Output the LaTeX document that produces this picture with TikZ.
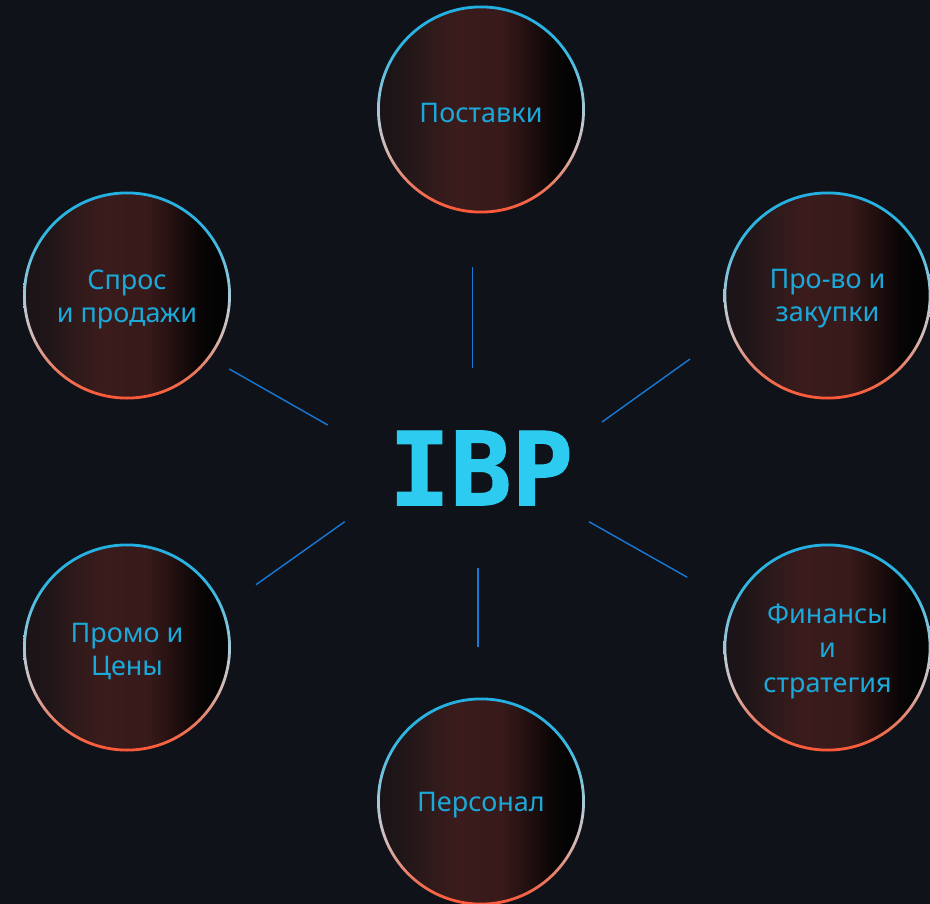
\documentclass[tikz,border=0pt]{standalone}
\usepackage{fontspec}
\setmainfont{Noto Sans}
\newfontfamily\ibpfont[BoldFeatures={FakeBold=1.2}]{DejaVu Sans Mono}
\definecolor{bgc}{HTML}{10121A}
\definecolor{lblc}{HTML}{1BA9DA}
\definecolor{ibpc}{HTML}{2ECBF0}
\definecolor{spokec}{HTML}{1679D6}
\definecolor{bfa}{HTML}{1A1418}
\definecolor{bfb}{HTML}{1E1518}
\definecolor{bfc}{HTML}{301A1B}
\definecolor{bfd}{HTML}{3B1B1C}
\definecolor{bfe}{HTML}{381A1A}
\definecolor{bff}{HTML}{200E0F}
\definecolor{bfg}{HTML}{080505}
\definecolor{bfh}{HTML}{030303}
\definecolor{rga}{HTML}{FF5636}
\definecolor{rgb}{HTML}{E87A60}
\definecolor{rgc}{HTML}{D4B8B4}
\definecolor{rgd}{HTML}{BCC8D0}
\definecolor{rge}{HTML}{80C4DC}
\definecolor{rgf}{HTML}{30B6E0}
\definecolor{rgg}{HTML}{22B0E2}
\pgfdeclarehorizontalshading{bubblefill}{100bp}{color(0bp)=(bfa); color(25bp)=(bfa); color(30bp)=(bfb); color(38bp)=(bfc); color(44bp)=(bfd); color(55bp)=(bfe); color(62bp)=(bff); color(68bp)=(bfg); color(72bp)=(bfh); color(100bp)=(bfh)}
\pgfdeclareverticalshading{bubblering}{100bp}{color(0bp)=(rga); color(25bp)=(rga); color(32bp)=(rgb); color(40bp)=(rgc); color(47bp)=(rgd); color(55bp)=(rge); color(65bp)=(rgf); color(75bp)=(rgg); color(100bp)=(rgg)}
\tikzset{
  lbl/.style={circle, minimum size=205pt, align=center, text=lblc, yshift=-3.5pt, font=\fontsize{27}{33}\selectfont},
  lblthree/.style={lbl, font=\fontsize{27}{34.5}\selectfont},
  spoke/.style={draw=spokec, line width=1.4pt},
}
\newcommand\bubblefig[5]{%
  \shade[shading=bubblefill] (#2,#3) circle[radius=102.5];
  \shade[shading=bubblering, even odd rule] (#2,#3) circle[radius=104] (#2,#3) circle[radius=101.2];
  \node[#5] (#1) at (#2,#3) {#4};
}
\begin{document}
\begin{tikzpicture}[x=1pt,y=-1pt]
\fill[bgc] (0,0) rectangle (930,904);
\useasboundingbox (0,0) rectangle (930,904);
\bubblefig{post}{481}{109.5}{Поставки}{lbl}
\bubblefig{spros}{127}{295.5}{Спрос\\и продажи}{lbl}
\bubblefig{prov}{827.5}{295.5}{Про-во и\\закупки}{lbl}
\bubblefig{promo}{127}{647.5}{Промо и\\Цены}{lbl}
\bubblefig{fin}{827.5}{647.5}{Финансы\\и\\стратегия}{lblthree}
\bubblefig{pers}{481}{801.5}{Персонал}{lbl}
\node[text=ibpc, font=\ibpfont\bfseries\fontsize{102}{102}\selectfont, inner sep=0pt] (ibp) at (481,468) {IBP};
\coordinate (a1) at (472.7,267); \coordinate (a2) at (472.7,368);
\coordinate (b1) at (229.3,369); \coordinate (b2) at (327.7,425);
\coordinate (d1) at (602,422); \coordinate (d2) at (690,359);
\coordinate (e1) at (344.7,521.7); \coordinate (e2) at (256,584.7);
\coordinate (f1) at (589,521.7); \coordinate (f2) at (687.3,577.3);
\coordinate (g1) at (478,568); \coordinate (g2) at (478,646.7);
\draw[spoke] (a1) -- (a2);
\draw[spoke] (b1) -- (b2);
\draw[spoke] (d1) -- (d2);
\draw[spoke] (e1) -- (e2);
\draw[spoke] (f1) -- (f2);
\draw[spoke] (g1) -- (g2);
\end{tikzpicture}
\end{document}
